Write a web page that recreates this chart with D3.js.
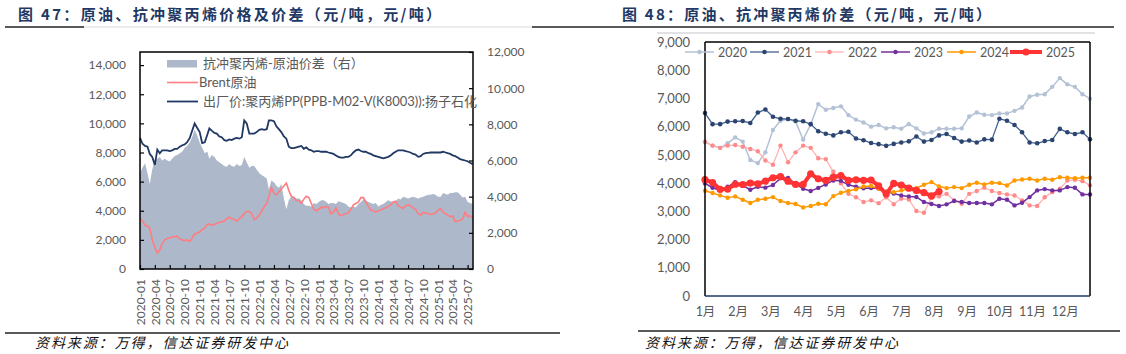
<!DOCTYPE html>
<html>
<head>
<meta charset="utf-8">
<script src="https://cdn.jsdelivr.net/npm/d3@7"></script>
<style>
  body { margin: 0; background: #fff; }
  svg { display: block; font-family: Lato, "Noto Sans CJK SC", sans-serif; }
</style>
</head>
<body>
<svg id="chart" width="1126" height="354"></svg>
<script>
/* ---- data: left chart (half-monthly readings, 2020-01 .. 2025-08) ---- */
var quarterLabels = ["2020-01","2020-04","2020-07","2020-10","2021-01","2021-04","2021-07","2021-10",
  "2022-01","2022-04","2022-07","2022-10","2023-01","2023-04","2023-07","2023-10",
  "2024-01","2024-04","2024-07","2024-10","2025-01","2025-04","2025-07"];

var ppPrice = [
  9000,8600,8450,8400,7900,7700,7150,8200,7950,8150,8150,8150,8100,8150,8250,8250,8400,8500,8550,8700,9000,9500,10000,9700,
  9400,8650,8700,9200,9650,9500,9350,9300,9100,9050,8850,8800,8900,8850,8950,9000,8950,9050,10200,10000,9300,9300,9300,9400,
  9550,9600,9550,9600,10200,10200,10150,9800,9600,9400,9100,8950,8400,8300,8300,8350,8400,8450,8250,8350,8200,8150,8050,8100,
  8100,8050,8050,8050,8000,7950,7900,7800,7700,7650,7650,7700,7700,7800,8000,8150,8200,8100,8050,8050,7950,7900,7800,7750,
  7700,7650,7600,7650,7700,7800,7950,8050,8150,8150,8150,8100,8050,8000,7900,7850,7700,7750,7900,7950,7980,8000,8000,8000,
  8000,8000,8050,8000,7950,7900,7800,7750,7650,7550,7500,7450,7400,7300,7200];

var brentPrice = [
  3480,3300,3000,2950,2800,2000,1500,1100,1300,1750,2000,2100,2150,2200,2220,2250,2050,2000,1950,2000,1900,2150,2400,2450,
  2550,2700,2800,3050,3100,3000,3050,3150,3200,3250,3300,3450,3550,3450,3400,3300,3450,3600,3800,3950,3950,3800,3400,3500,
  3700,4000,4300,4500,5000,5600,5200,5100,5300,5500,5700,5900,5400,5000,4900,4700,4700,4500,4800,5000,4900,4500,4100,4000,
  4100,4250,4200,4300,4250,3800,3900,4200,3800,3650,3750,3800,3850,4100,4400,4500,4600,4900,4900,4600,4300,4050,4000,3900,
  4000,4050,4150,4200,4300,4400,4600,4650,4350,4250,4150,4350,4400,4350,4200,4100,3800,3700,3900,3850,3800,3750,3800,3850,
  4050,4150,3900,3800,3700,3600,3650,3250,3300,3350,3450,3900,3600,3650,3500];

var ppBrentSpread = [
  5300,5600,5850,5300,4700,5500,6000,6100,6200,6000,6100,6000,5950,6100,6250,6300,6400,6500,6700,6800,7000,7300,7700,7400,
  7000,6700,6400,6500,6100,6300,6200,6000,5900,5800,5700,5650,5800,5700,5650,5800,5700,5750,6200,5900,5600,5700,5700,5500,
  5300,5200,5100,5000,4400,4900,4800,4600,4500,4700,3900,3300,3800,4000,4000,3900,3900,3800,3600,3500,3500,3450,3650,3600,
  3700,3800,3800,3700,3600,3650,3650,3600,3750,3700,3650,3600,3450,3400,3450,3400,3600,3700,3850,3800,3700,3650,3600,3650,
  3450,3550,3600,3700,3800,3750,3700,3750,3900,3850,4000,3950,3900,3950,4000,3950,3900,3950,4000,4050,4100,4100,4150,4100,
  4000,4000,4200,4150,4100,4200,4200,4250,4250,4100,3950,4000,3700,3650,3600];

/* ---- data: right chart (weekly spread by year) ---- */
var monthLabels = ["1月","2月","3月","4月","5月","6月","7月","8月","9月","10月","11月","12月"];
var yearNames = ["2020","2021","2022","2023","2024","2025"];
var spread2020 = [5450,5330,5250,5410,5620,5470,4820,4710,5090,5880,6210,6270,6180,5540,6080,6800,6600,6660,6720,6410,
  6250,6150,6000,6060,5940,5980,5930,6090,5940,5760,5800,5930,5930,5930,5940,6360,6500,6420,6410,6470,
  6470,6560,6680,7070,7130,7150,7410,7720,7500,7410,7150,6990];
var spread2021 = [6480,6090,6090,6180,6190,6200,6130,6500,6610,6350,6280,6270,6210,6190,6090,5840,5750,5690,5800,5820,
  5580,5520,5420,5380,5320,5390,5440,5480,5650,5470,5530,5690,5740,5600,5470,5510,5440,5550,5540,6280,
  6210,6060,5800,5440,5410,5490,5530,5920,5800,5740,5800,5550];
var spread2022 = [5470,5330,5250,5330,5350,5290,5210,5130,4800,4650,5330,4740,5090,5330,5250,4880,4850,4400,3990,3620,
  3500,3330,3390,3290,3500,3250,3450,3420,3010,2950,3480,3530,3620,3390,3270,3620,3720,3840,3720,3650,
  3600,3560,3390,3210,3190,3500,3680,3800,4090,4120,4070,3920];
var spread2023 = [3990,3835,3750,3870,4035,3918,3765,3870,3840,3935,4170,4180,3977,3800,3718,3830,3953,4094,4080,3940,
  3870,3820,3823,3810,3700,3630,3564,3529,3510,3329,3260,3188,3247,3364,3329,3294,3294,3294,3247,3447,
  3412,3211,3306,3505,3741,3788,3741,3741,3859,3835,3600,3600];
var spread2024 = [3730,3647,3565,3480,3530,3412,3294,3412,3447,3505,3364,3294,3260,3140,3188,3270,3250,3540,3660,3720,
  3780,3880,3900,3800,3700,3680,3741,3800,3823,3941,4035,3882,3823,3858,3823,3941,4011,3952,4011,4000,
  3917,4094,4129,4152,4094,4152,4117,4211,4188,4176,4188,4188];
var spread2025 = [4120,4020,3780,3790,3960,3950,4000,3976,4070,4188,4235,4070,3952,3952,4330,4152,4094,4211,4270,4094,
  4117,4100,4110,3900,3610,3990,3930,3820,3740,3665,3545,3700];

var yearSeries = [spread2020, spread2021, spread2022, spread2023, spread2024, spread2025];

/* styles */
var grey = "#595959";
var areaColor = "#adb9ca";
var brentColor = "#ff7c80";
var ppColor = "#203864";
var yearStyle = [
  {line: "#b4c2d6", dot: "#b4c2d6", w: 1.5, r: 2.2},
  {line: "#44618f", dot: "#2b4570", w: 1.3, r: 2.3},
  {line: "#ffb3b3", dot: "#ff8a8a", w: 1.3, r: 2.2},
  {line: "#7030a0", dot: "#7030a0", w: 1.5, r: 2.2},
  {line: "#ff9900", dot: "#ff9900", w: 1.5, r: 2.2},
  {line: "#ff3333", dot: "#ff3333", w: 4, r: 3.6}
];

var svg = d3.select("#chart");

/* ---- headers and footers ---- */
svg.append("text").attr("x", 18).attr("y", 20)
  .attr("font-family", "'Noto Sans CJK SC'").attr("font-weight", "bold")
  .attr("font-size", 15).attr("fill", "#1f3864")
  .attr("textLength", 423).attr("lengthAdjust", "spacing")
  .text("图 47：原油、抗冲聚丙烯价格及价差（元/吨，元/吨）");
svg.append("text").attr("x", 622).attr("y", 20)
  .attr("font-family", "'Noto Sans CJK SC'").attr("font-weight", "bold")
  .attr("font-size", 15).attr("fill", "#1f3864")
  .attr("textLength", 369).attr("lengthAdjust", "spacing")
  .text("图 48：原油、抗冲聚丙烯价差（元/吨，元/吨）");

svg.append("line").attr("x1", 5).attr("x2", 84).attr("y1", 27).attr("y2", 27).attr("stroke", "#222").attr("stroke-width", 1.3);
svg.append("line").attr("x1", 84).attr("x2", 532).attr("y1", 27).attr("y2", 27).attr("stroke", "#e6e6e6").attr("stroke-width", 1.3);
svg.append("line").attr("x1", 532).attr("x2", 1114).attr("y1", 27).attr("y2", 27).attr("stroke", "#222").attr("stroke-width", 1.3);
svg.append("line").attr("x1", 657).attr("x2", 1095).attr("y1", 33).attr("y2", 33).attr("stroke", "#d9d9d9").attr("stroke-width", 1.3);

svg.append("line").attr("x1", 5).attr("x2", 560).attr("y1", 333).attr("y2", 333).attr("stroke", "#222").attr("stroke-width", 1.3);
svg.append("line").attr("x1", 638).attr("x2", 1120).attr("y1", 331).attr("y2", 331).attr("stroke", "#222").attr("stroke-width", 1.3);

[35, 645].forEach(function(x) {
  svg.append("text").attr("x", x).attr("y", 348)
    .attr("font-family", "'Noto Sans CJK SC'").attr("font-style", "italic")
    .attr("font-size", 14).attr("fill", "#111")
    .attr("textLength", 253).attr("lengthAdjust", "spacing")
    .text("资料来源：万得，信达证券研发中心");
});

/* ---- left chart ---- */
var halfMonthDates = d3.range(ppPrice.length).map(function(k) {
  return new Date(2020, Math.floor(k / 2), k % 2 ? 16 : 1);
});
var quarterDates = quarterLabels.map(d3.timeParse("%Y-%m"));

var xL = d3.scaleTime().domain([new Date(2020, 0, 1), new Date(2025, 7, 3)]).range([140, 473]);
var yL = d3.scaleLinear().domain([0, 14900]).range([269, 52]);
var yR = d3.scaleLinear().domain([0, 12000]).range([269, 52]);

var left = svg.append("g");

left.append("path")
  .datum(ppBrentSpread)
  .attr("fill", areaColor)
  .attr("d", d3.area()
    .x(function(d, i) { return xL(halfMonthDates[i]); })
    .y0(yR(0))
    .y1(function(d) { return yR(d); }));

left.append("path")
  .datum(brentPrice)
  .attr("fill", "none").attr("stroke", brentColor).attr("stroke-width", 1.6)
  .attr("d", d3.line()
    .x(function(d, i) { return xL(halfMonthDates[i]); })
    .y(function(d) { return yL(d); }));

left.append("path")
  .datum(ppPrice)
  .attr("fill", "none").attr("stroke", ppColor).attr("stroke-width", 1.8)
  .attr("d", d3.line()
    .x(function(d, i) { return xL(halfMonthDates[i]); })
    .y(function(d) { return yL(d); }));

function styleAxis(g, size) {
  g.select(".domain").remove();
  g.selectAll(".tick line").attr("stroke", "#000").attr("stroke-width", 1.2);
  g.selectAll("text").attr("fill", grey).attr("font-size", size).attr("font-family", "Lato, 'Noto Sans CJK SC'");
}

left.append("g")
  .attr("transform", "translate(140,0)")
  .call(d3.axisLeft(yL).tickValues(d3.range(0, 14001, 2000)).tickSize(-4).tickPadding(14).tickFormat(d3.format(",")))
  .call(styleAxis, 12);

left.append("g")
  .attr("transform", "translate(473,0)")
  .call(d3.axisRight(yR).tickValues(d3.range(0, 12001, 2000)).tickSize(-4).tickPadding(14).tickFormat(d3.format(",")))
  .call(styleAxis, 12);

var bottomL = left.append("g")
  .attr("transform", "translate(0,269)")
  .call(d3.axisBottom(xL).tickValues(quarterDates).tickSize(-4)
    .tickFormat(function(d, i) { return quarterLabels[i]; }))
  .call(styleAxis, 12);
bottomL.selectAll("text")
  .attr("transform", "rotate(-90)")
  .attr("text-anchor", "end")
  .attr("x", -10).attr("y", 0).attr("dy", "0.35em");

left.append("rect")
  .attr("x", 140).attr("y", 52).attr("width", 333).attr("height", 217)
  .attr("fill", "none").attr("stroke", "#000").attr("stroke-width", 1.5);

/* legend left */
var legL = left.append("g").attr("font-size", 13).attr("fill", grey);
legL.append("rect").attr("x", 167).attr("y", 60).attr("width", 30).attr("height", 7.5).attr("fill", areaColor);
legL.append("text").attr("x", 203).attr("y", 67.5).text("抗冲聚丙烯-原油价差（右）");
legL.append("line").attr("x1", 167).attr("x2", 198).attr("y1", 82.5).attr("y2", 82.5).attr("stroke", brentColor).attr("stroke-width", 1.6);
legL.append("text").attr("x", 199).attr("y", 87).text("Brent原油");
legL.append("line").attr("x1", 167).attr("x2", 198).attr("y1", 101.5).attr("y2", 101.5).attr("stroke", ppColor).attr("stroke-width", 1.8);
legL.append("text").attr("x", 203).attr("y", 106).text("出厂价:聚丙烯PP(PPB-M02-V(K8003)):扬子石化");

/* ---- right chart ---- */
var xW = d3.scaleLinear().domain([0, 51]).range([705, 1090]);
var yW = d3.scaleLinear().domain([0, 9000]).range([296, 42]);

var right = svg.append("g");

right.append("g")
  .attr("transform", "translate(705,0)")
  .call(d3.axisLeft(yW).tickValues(d3.range(0, 9001, 1000)).tickSize(0).tickPadding(15).tickFormat(d3.format(",")))
  .call(styleAxis, 13);

right.append("g")
  .attr("transform", "translate(0,296)")
  .call(d3.axisBottom(xW).tickValues(d3.range(12).map(function(m) { return m * 52 / 12; }))
    .tickSize(0).tickPadding(11).tickFormat(function(d, i) { return monthLabels[i]; }))
  .call(styleAxis, 12.5);

var lineW = d3.line()
  .x(function(d, i) { return xW(i); })
  .y(function(d) { return yW(d); });

yearSeries.forEach(function(series, k) {
  var st = yearStyle[k];
  var g = right.append("g");
  g.append("path").datum(series)
    .attr("fill", "none").attr("stroke", st.line).attr("stroke-width", st.w)
    .attr("stroke-linejoin", "round")
    .attr("d", lineW);
  g.selectAll("circle").data(series).enter().append("circle")
    .attr("cx", function(d, i) { return xW(i); })
    .attr("cy", function(d) { return yW(d); })
    .attr("r", st.r)
    .attr("fill", st.dot);
});

/* plot frame */
right.append("line").attr("x1", 705).attr("x2", 705).attr("y1", 42).attr("y2", 296).attr("stroke", "#000").attr("stroke-width", 1.5);
right.append("line").attr("x1", 705).attr("x2", 1090).attr("y1", 42).attr("y2", 42).attr("stroke", "#000").attr("stroke-width", 1.5);
right.append("line").attr("x1", 1090).attr("x2", 1090).attr("y1", 42).attr("y2", 296).attr("stroke", "#000").attr("stroke-width", 1.5);
right.append("line").attr("x1", 705).attr("x2", 1090).attr("y1", 296).attr("y2", 296).attr("stroke", "#1f3864").attr("stroke-width", 1.5);

/* legend right */
var legSwatchX = [685, 750, 815, 881, 947, 1010];
var legR = right.append("g").attr("font-size", 12.5).attr("fill", grey);
yearNames.forEach(function(name, k) {
  var st = yearStyle[k];
  var x0 = legSwatchX[k], x1 = x0 + (k === 5 ? 32 : 29);
  legR.append("line").attr("x1", x0).attr("x2", x1).attr("y1", 52).attr("y2", 52)
    .attr("stroke", st.line).attr("stroke-width", st.w);
  legR.append("circle").attr("cx", (x0 + x1) / 2).attr("cy", 52).attr("r", st.r).attr("fill", st.dot);
  legR.append("text").attr("x", x1 + 4).attr("y", 56.5).text(name);
});
</script>
</body>
</html>
